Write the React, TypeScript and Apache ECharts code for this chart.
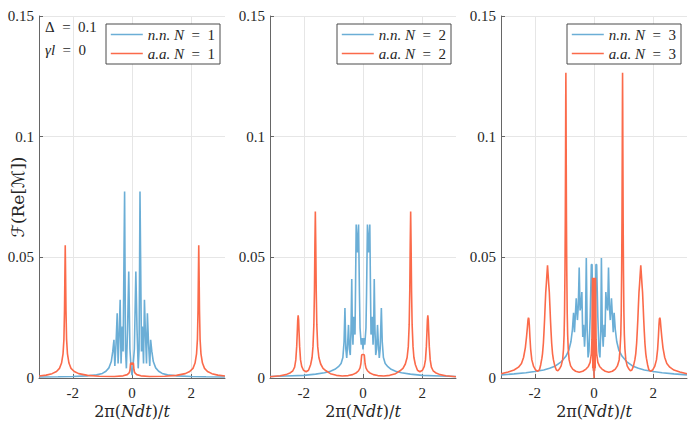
import React, { useEffect, useRef } from "react";
import * as echarts from "echarts";

// ---- tick labels / axis ranges ----
const X_TICKS = [-2, 0, 2];
const Y_MIN = 0;
const Y_MAX = 0.15;
const Y_STEP = 0.05;
const PANEL_N = [1, 2, 3];

// ---- Panel 1 (N = 1) ----
const nn1: number[][] = [
  [-3.14, 0.0004], [-2.5, 0.0005], [-2, 0.0006], [-1.5, 0.0009], [-1.2, 0.0013], [-1, 0.0019],
  [-0.88, 0.0028], [-0.78, 0.0042], [-0.7, 0.0068], [-0.65, 0.011], [-0.61, 0.0158], [-0.58, 0.005],
  [-0.54, 0.014], [-0.5, 0.0268], [-0.47, 0.006], [-0.43, 0.02], [-0.4, 0.0324], [-0.37, 0.006],
  [-0.33, 0.0213], [-0.3, 0.011], [-0.25, 0.0773], [-0.22, 0.012], [-0.19, 0.004], [-0.15, 0.02],
  [-0.11, 0.0441], [-0.07, 0.012], [-0.03, 0.004], [0, 0.0012], [0.03, 0.004], [0.08, 0.012],
  [0.13, 0.0441], [0.17, 0.02], [0.21, 0.004], [0.24, 0.012], [0.27, 0.0773], [0.32, 0.011],
  [0.35, 0.0213], [0.39, 0.006], [0.42, 0.0324], [0.45, 0.02], [0.49, 0.006], [0.52, 0.0268],
  [0.56, 0.014], [0.6, 0.005], [0.63, 0.0158], [0.67, 0.011], [0.72, 0.0068], [0.8, 0.0042],
  [0.9, 0.0028], [1.02, 0.0019], [1.2, 0.0013], [1.5, 0.0009], [2, 0.0006], [2.5, 0.0005], [3.14, 0.0004],
];
const aa1: number[][] = [
  [-3.14, 0.0008], [-2.9, 0.0012], [-2.7, 0.0018], [-2.55, 0.0027], [-2.45, 0.004], [-2.38, 0.0062],
  [-2.33, 0.01], [-2.3, 0.016], [-2.28, 0.028], [-2.265, 0.045], [-2.255, 0.055], [-2.245, 0.045],
  [-2.23, 0.028], [-2.21, 0.016], [-2.18, 0.01], [-2.13, 0.0062], [-2.06, 0.004], [-1.95, 0.0027],
  [-1.8, 0.0018], [-1.5, 0.0011], [-1.1, 0.0007], [-0.6, 0.0006], [-0.3, 0.0009], [-0.16, 0.0014],
  [-0.09, 0.0022], [-0.065, 0.0035], [-0.05, 0.006], [-0.02, 0.0063], [0, 0.0055], [0.02, 0.0063],
  [0.05, 0.006], [0.065, 0.0035], [0.09, 0.0022], [0.16, 0.0014], [0.3, 0.0009], [0.6, 0.0006],
  [1.1, 0.0007], [1.5, 0.0011], [1.8, 0.0018], [1.95, 0.0027], [2.06, 0.004], [2.13, 0.0062],
  [2.18, 0.01], [2.21, 0.016], [2.23, 0.028], [2.245, 0.045], [2.255, 0.055], [2.265, 0.045],
  [2.28, 0.028], [2.3, 0.016], [2.33, 0.01], [2.38, 0.0062], [2.45, 0.004], [2.55, 0.0027],
  [2.7, 0.0018], [2.9, 0.0012], [3.14, 0.0008],
];

// ---- Panel 2 (N = 2) ----
const nn2: number[][] = [
  [-3.14, 0.0006], [-2.6, 0.0008], [-2, 0.0011], [-1.6, 0.0016], [-1.3, 0.0022], [-1.1, 0.0028],
  [-0.95, 0.0036], [-0.83, 0.0047], [-0.74, 0.006], [-0.68, 0.0085], [-0.64, 0.015], [-0.61, 0.029],
  [-0.58, 0.012], [-0.55, 0.0083], [-0.52, 0.014], [-0.49, 0.022], [-0.46, 0.012], [-0.43, 0.0095],
  [-0.405, 0.02], [-0.38, 0.041], [-0.36, 0.02], [-0.34, 0.0138], [-0.31, 0.0254], [-0.29, 0.02],
  [-0.27, 0.018], [-0.25, 0.04], [-0.23, 0.0636], [-0.19, 0.052], [-0.15, 0.0636], [-0.12, 0.035],
  [-0.1, 0.0207], [-0.06, 0.0138], [-0.03, 0.0166], [0, 0.0118], [0.03, 0.0166], [0.06, 0.0138],
  [0.1, 0.0207], [0.12, 0.035], [0.15, 0.0636], [0.19, 0.052], [0.23, 0.0636], [0.25, 0.04],
  [0.27, 0.018], [0.29, 0.02], [0.31, 0.0254], [0.34, 0.0138], [0.36, 0.02], [0.38, 0.041],
  [0.405, 0.02], [0.43, 0.0095], [0.46, 0.012], [0.49, 0.022], [0.52, 0.014], [0.55, 0.0083],
  [0.58, 0.012], [0.62, 0.029], [0.65, 0.015], [0.69, 0.0085], [0.75, 0.006], [0.84, 0.0047],
  [0.95, 0.0036], [1.1, 0.0028], [1.3, 0.0022], [1.6, 0.0016], [2, 0.0011], [2.6, 0.0008], [3.14, 0.0006],
];
const aa2: number[][] = [
  [-3.14, 0.0005], [-2.8, 0.0009], [-2.6, 0.0014], [-2.45, 0.0022], [-2.37, 0.003], [-2.31, 0.0045],
  [-2.27, 0.0075], [-2.24, 0.013], [-2.22, 0.019], [-2.205, 0.024], [-2.19, 0.026], [-2.175, 0.024],
  [-2.16, 0.019], [-2.14, 0.013], [-2.11, 0.0075], [-2.07, 0.0048], [-2.01, 0.0032], [-1.92, 0.0026],
  [-1.84, 0.0032], [-1.77, 0.0055], [-1.72, 0.0085], [-1.69, 0.013], [-1.66, 0.022], [-1.64, 0.036],
  [-1.625, 0.055], [-1.61, 0.069], [-1.595, 0.055], [-1.58, 0.036], [-1.56, 0.022], [-1.53, 0.013],
  [-1.49, 0.0085], [-1.43, 0.0058], [-1.35, 0.004], [-1.25, 0.003], [-1.1, 0.0018], [-0.9, 0.0011],
  [-0.7, 0.0008], [-0.5, 0.001], [-0.35, 0.0014], [-0.22, 0.0022], [-0.15, 0.003], [-0.1, 0.0042],
  [-0.07, 0.006], [-0.045, 0.0095], [0, 0.0098], [0.045, 0.0095], [0.07, 0.006], [0.1, 0.0042],
  [0.15, 0.003], [0.22, 0.0022], [0.35, 0.0014], [0.5, 0.001], [0.7, 0.0008], [0.9, 0.0011],
  [1.1, 0.0018], [1.25, 0.003], [1.35, 0.004], [1.43, 0.0058], [1.49, 0.0085], [1.53, 0.013],
  [1.56, 0.022], [1.58, 0.036], [1.595, 0.055], [1.61, 0.069], [1.625, 0.055], [1.64, 0.036],
  [1.66, 0.022], [1.69, 0.013], [1.72, 0.0085], [1.77, 0.0055], [1.84, 0.0032], [1.92, 0.0026],
  [2.01, 0.0032], [2.07, 0.0048], [2.11, 0.0075], [2.14, 0.013], [2.16, 0.019], [2.175, 0.024],
  [2.19, 0.026], [2.205, 0.024], [2.22, 0.019], [2.24, 0.013], [2.27, 0.0075], [2.31, 0.0045],
  [2.37, 0.003], [2.45, 0.0022], [2.6, 0.0014], [2.8, 0.0009], [3.14, 0.0005],
];

// ---- Panel 3 (N = 3) ----
const nn3: number[][] = [
  [-3.14, 0.0013], [-2.7, 0.0017], [-2.3, 0.0022], [-2, 0.0027], [-1.7, 0.0033], [-1.5, 0.004],
  [-1.3, 0.005], [-1.1, 0.0068], [-0.95, 0.009], [-0.85, 0.0115], [-0.78, 0.015], [-0.73, 0.02],
  [-0.69, 0.027], [-0.66, 0.019], [-0.63, 0.026], [-0.6, 0.033], [-0.56, 0.024], [-0.53, 0.03],
  [-0.5, 0.0458], [-0.47, 0.028], [-0.44, 0.03], [-0.41, 0.0356], [-0.38, 0.017], [-0.35, 0.022],
  [-0.32, 0.013], [-0.29, 0.02], [-0.26, 0.0497], [-0.23, 0.02], [-0.2, 0.0085], [-0.17, 0.011],
  [-0.13, 0.025], [-0.09, 0.047], [-0.065, 0.047], [-0.04, 0.018], [-0.015, 0.004], [0, 0.001],
  [0.015, 0.004], [0.04, 0.018], [0.065, 0.047], [0.09, 0.047], [0.13, 0.025], [0.17, 0.011],
  [0.2, 0.0085], [0.23, 0.02], [0.25, 0.0497], [0.28, 0.02], [0.31, 0.013], [0.34, 0.022],
  [0.37, 0.017], [0.4, 0.0356], [0.43, 0.03], [0.46, 0.028], [0.49, 0.0458], [0.52, 0.03],
  [0.55, 0.024], [0.59, 0.033], [0.62, 0.026], [0.65, 0.019], [0.68, 0.027], [0.72, 0.02],
  [0.77, 0.015], [0.84, 0.0115], [0.95, 0.009], [1.1, 0.0068], [1.3, 0.005], [1.5, 0.004],
  [1.7, 0.0033], [2, 0.0027], [2.3, 0.0022], [2.7, 0.0017], [3.14, 0.0013],
];
const aa3: number[][] = [
  [-3.14, 0.0018], [-2.9, 0.0025], [-2.7, 0.0033], [-2.55, 0.0045], [-2.45, 0.006], [-2.38, 0.0085],
  [-2.32, 0.0125], [-2.28, 0.017], [-2.25, 0.021], [-2.23, 0.024], [-2.215, 0.025], [-2.2, 0.0245],
  [-2.185, 0.022], [-2.165, 0.017], [-2.14, 0.012], [-2.1, 0.0075], [-2.04, 0.0048], [-1.97, 0.0033],
  [-1.9, 0.0028], [-1.84, 0.0035], [-1.8, 0.0055], [-1.76, 0.0082], [-1.74, 0.01], [-1.71, 0.0144],
  [-1.69, 0.019], [-1.67, 0.024], [-1.65, 0.03], [-1.63, 0.0356], [-1.61, 0.039], [-1.59, 0.043],
  [-1.57, 0.0467], [-1.55, 0.043], [-1.53, 0.039], [-1.51, 0.0356], [-1.49, 0.03], [-1.47, 0.024],
  [-1.45, 0.019], [-1.43, 0.0144], [-1.4, 0.01], [-1.37, 0.0075], [-1.32, 0.0048], [-1.27, 0.0033],
  [-1.22, 0.003], [-1.17, 0.0037], [-1.11, 0.005], [-1.06, 0.0075], [-1.03, 0.012], [-1.01, 0.018],
  [-0.995, 0.027], [-0.98, 0.045], [-0.97, 0.065], [-0.96, 0.095], [-0.955, 0.114], [-0.95, 0.1265],
  [-0.945, 0.114], [-0.94, 0.095], [-0.93, 0.065], [-0.92, 0.045], [-0.905, 0.027], [-0.89, 0.018],
  [-0.87, 0.012], [-0.84, 0.0075], [-0.79, 0.005], [-0.72, 0.0037], [-0.62, 0.0028], [-0.5, 0.0024],
  [-0.38, 0.0028], [-0.27, 0.0037], [-0.19, 0.0048], [-0.13, 0.0065], [-0.09, 0.01], [-0.07, 0.016],
  [-0.06, 0.03], [-0.05, 0.0415], [-0.04, 0.004], [-0.03, 0.0415], [-0.02, 0.003], [-0.01, 0.0415],
  [0, 0], [0.01, 0.0415], [0.02, 0.003], [0.03, 0.0415], [0.04, 0.004], [0.05, 0.0415],
  [0.06, 0.03], [0.07, 0.016], [0.09, 0.01], [0.13, 0.0065], [0.19, 0.0048], [0.27, 0.0037],
  [0.38, 0.0028], [0.5, 0.0024], [0.62, 0.0028], [0.72, 0.0037], [0.79, 0.005], [0.85, 0.0075],
  [0.88, 0.012], [0.905, 0.018], [0.92, 0.027], [0.935, 0.045], [0.945, 0.065], [0.955, 0.095],
  [0.96, 0.114], [0.965, 0.1265], [0.97, 0.114], [0.975, 0.095], [0.985, 0.065], [0.995, 0.045],
  [1.01, 0.027], [1.025, 0.018], [1.045, 0.012], [1.075, 0.0075], [1.12, 0.005], [1.18, 0.0037],
  [1.23, 0.003], [1.28, 0.0033], [1.33, 0.0048], [1.38, 0.0075], [1.41, 0.01], [1.44, 0.0144],
  [1.46, 0.019], [1.48, 0.024], [1.5, 0.03], [1.52, 0.0356], [1.54, 0.039], [1.56, 0.043],
  [1.58, 0.0467], [1.6, 0.043], [1.62, 0.039], [1.64, 0.0356], [1.66, 0.03], [1.68, 0.024],
  [1.7, 0.019], [1.72, 0.0144], [1.75, 0.01], [1.77, 0.0082], [1.81, 0.0055], [1.85, 0.0035],
  [1.91, 0.0028], [1.98, 0.0033], [2.05, 0.0048], [2.11, 0.0075], [2.15, 0.012], [2.175, 0.017],
  [2.195, 0.022], [2.21, 0.0245], [2.225, 0.025], [2.24, 0.024], [2.26, 0.021], [2.29, 0.017],
  [2.33, 0.0125], [2.39, 0.0085], [2.46, 0.006], [2.56, 0.0045], [2.7, 0.0033], [2.9, 0.0025],
  [3.14, 0.0018],
];

const NN = [nn1, nn2, nn3];
const AA = [aa1, aa2, aa3];

const BLUE = "#6baed6";
const RED = "#fb6a4a";
const FONT = "'Liberation Serif', 'DejaVu Serif', 'Times New Roman', serif";
const WIDE = "'DejaVu Serif', 'Liberation Serif', serif";
const SCRIPT = "'DejaVu Sans', 'DejaVu Serif', sans-serif";
const TXT = "#262626";
const AXIS = "#666666";
const GRIDC = "#e6e6e6";
const SP = "\u2002"; // en space, mimics TeX spacing around "="

export default function App() {
  const ref = useRef<HTMLDivElement>(null);
  useEffect(() => {
    if (!ref.current) return;
    const chart = echarts.init(ref.current, null, { renderer: "svg" });
    const lefts = [39, 270, 501];
    const legendLefts = [106, 337, 567];

    const grid = lefts.map((left) => ({
      left,
      top: 16,
      width: 186,
      height: 362,
      containLabel: false,
      outerBoundsMode: "none",
    }));

    const xAxis = PANEL_N.map((_, i) => ({
      type: "value",
      gridIndex: i,
      min: -Math.PI,
      max: Math.PI,
      axisLine: { show: true, onZero: false, lineStyle: { color: AXIS, width: 1 } },
      axisTick: { show: true, inside: true, length: 4, customValues: X_TICKS, lineStyle: { color: AXIS } },
      axisLabel: { customValues: X_TICKS, margin: 7, fontSize: 15, color: TXT, fontFamily: FONT },
      splitLine: { show: true, lineStyle: { color: GRIDC, width: 1 } },
      name: "{r|2π(}{i|Ndt}{r|)/}{i|t}",
      nameLocation: "middle",
      nameGap: 25,
      nameMoveOverlap: false,
      nameTextStyle: {
        rich: {
          r: { fontSize: 16, fontFamily: WIDE, color: TXT },
          i: { fontSize: 16, fontFamily: WIDE, fontStyle: "italic", color: TXT },
        },
      },
    }));

    const yAxis = PANEL_N.map((_, i) => ({
      type: "value",
      gridIndex: i,
      min: Y_MIN,
      max: Y_MAX,
      interval: Y_STEP,
      axisLine: { show: true, onZero: false, lineStyle: { color: AXIS, width: 1 } },
      axisTick: { show: true, inside: true, length: 4, lineStyle: { color: AXIS } },
      axisLabel: { margin: 5, fontSize: 15, color: TXT, fontFamily: FONT },
      splitLine: { show: true, lineStyle: { color: GRIDC, width: 1 } },
      ...(i === 0
        ? {
            name: "{s|ℱ}{r|(Re[}{s|ℳ}{r|])}",
            nameLocation: "middle",
            nameGap: 13,
            nameMoveOverlap: false,
            nameTextStyle: {
              fontSize: 17,
              fontFamily: WIDE,
              color: TXT,
              rich: {
                r: { fontSize: 17, fontFamily: WIDE, color: TXT },
                s: { fontSize: 17, fontFamily: SCRIPT, color: TXT },
              },
            },
          }
        : {}),
    }));

    const series: any[] = [];
    PANEL_N.forEach((n, i) => {
      series.push({
        type: "line",
        name: `n.n. N = ${n}`,
        xAxisIndex: i,
        yAxisIndex: i,
        data: NN[i],
        symbol: "none",
        showSymbol: false,
        lineStyle: { color: BLUE, width: 1.6 },
        itemStyle: { color: BLUE },
        z: 2,
      });
      series.push({
        type: "line",
        name: `a.a. N = ${n}`,
        xAxisIndex: i,
        yAxisIndex: i,
        data: AA[i],
        symbol: "none",
        showSymbol: false,
        lineStyle: { color: RED, width: 1.6 },
        itemStyle: { color: RED },
        z: 3,
      });
    });

    const legend = PANEL_N.map((n, i) => ({
      data: [`n.n. N = ${n}`, `a.a. N = ${n}`],
      left: legendLefts[i],
      top: 24,
      orient: "vertical",
      itemWidth: 32,
      itemHeight: 14,
      itemGap: 4,
      padding: [3, 5, 3, 4],
      borderColor: "#4a4a4a",
      borderWidth: 1,
      borderRadius: 0,
      backgroundColor: "#ffffff",
      selectedMode: false,
      itemStyle: { opacity: 0 },
      lineStyle: { width: 1.6 },
      formatter: (name: string) => {
        const parts = name.split(" = ");
        return `{i|${parts[0]}}{r|${SP}=${SP}${parts[1]}}`;
      },
      textStyle: {
        fontSize: 15,
        fontFamily: FONT,
        color: TXT,
        rich: {
          i: { fontSize: 15, fontFamily: FONT, fontStyle: "italic", color: TXT },
          r: { fontSize: 15, fontFamily: FONT, color: TXT },
        },
      },
    }));

    const graphic = [
      {
        type: "text",
        left: 45,
        top: 19,
        z: 100,
        style: { text: `Δ${SP}=${SP}0.1`, font: `15px ${FONT}`, fill: TXT },
      },
      {
        type: "text",
        left: 45,
        top: 42,
        z: 100,
        style: {
          text: `{i|γl}{r|${SP}=${SP}0}`,
          fill: TXT,
          rich: {
            i: { fontSize: 15, fontFamily: FONT, fontStyle: "italic", fill: TXT },
            r: { fontSize: 15, fontFamily: FONT, fill: TXT },
          },
        },
      },
    ];

    chart.setOption({
      animation: false,
      backgroundColor: "#ffffff",
      grid,
      xAxis,
      yAxis,
      legend,
      series,
      graphic,
    } as any);
    return () => chart.dispose();
  }, []);
  return <div ref={ref} style={{ position: "fixed", left: 0, top: 0, width: 691, height: 424 }} />;
}
